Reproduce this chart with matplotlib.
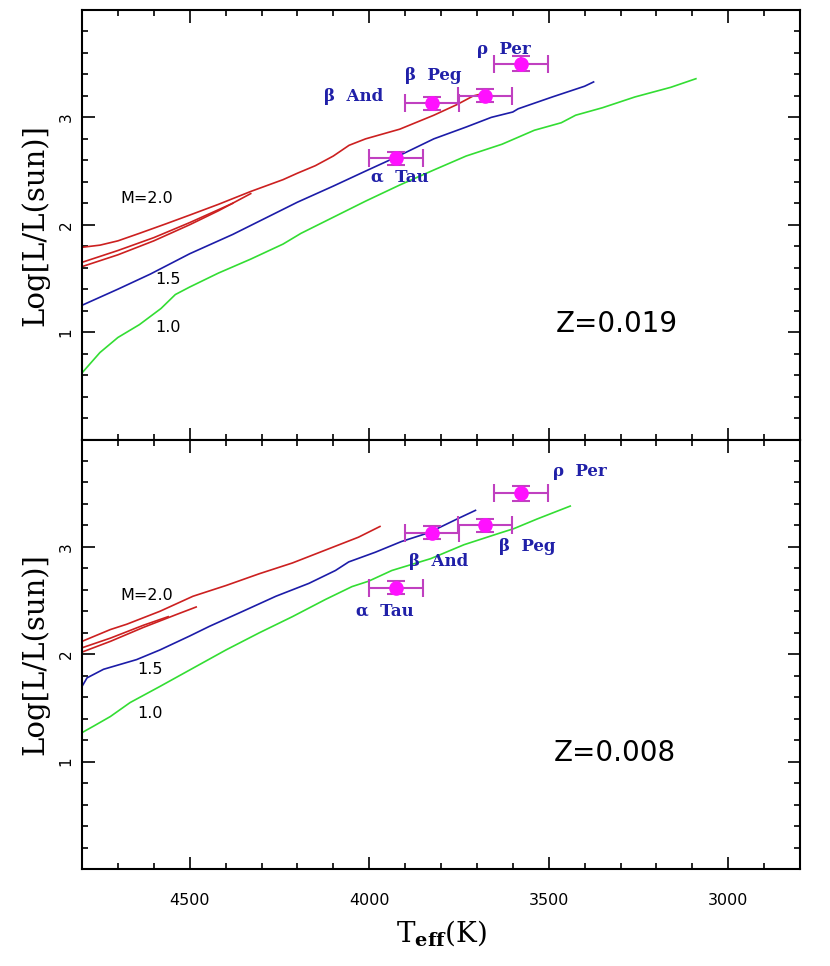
import matplotlib
matplotlib.use("Agg")
import matplotlib.pyplot as plt
from matplotlib.ticker import MultipleLocator

# ---------------- data ----------------
# Z = 0.019 panel
up_T_m10 = [4800, 4750, 4700, 4640, 4580, 4540, 4500, 4420, 4330, 4240, 4190, 4100, 4010,
            3915, 3820, 3730, 3630, 3540, 3465, 3425, 3350, 3260, 3160, 3090]
up_L_m10 = [0.62, 0.81, 0.95, 1.07, 1.22, 1.35, 1.42, 1.55, 1.68, 1.82, 1.92, 2.07, 2.22,
            2.37, 2.51, 2.64, 2.75, 2.88, 2.95, 3.02, 3.09, 3.19, 3.28, 3.36]

up_T_m15 = [4800, 4700, 4610, 4500, 4380, 4290, 4200, 4100, 4010, 3925, 3820, 3730, 3660,
            3600, 3585, 3490, 3400, 3375]
up_L_m15 = [1.25, 1.40, 1.54, 1.73, 1.91, 2.06, 2.21, 2.36, 2.50, 2.63, 2.80, 2.91, 3.00,
            3.05, 3.08, 3.19, 3.29, 3.33]

up_T_m20 = [4800, 4750, 4700, 4640, 4565, 4500, 4420, 4330, 4240, 4200, 4150, 4100, 4056,
            4010, 3915, 3820, 3755, 3710, 3685]
up_L_m20 = [1.79, 1.81, 1.85, 1.92, 2.01, 2.09, 2.19, 2.31, 2.42, 2.48, 2.55, 2.64, 2.74,
            2.80, 2.89, 3.02, 3.12, 3.20, 3.22]
up_T_m20a = [4800, 4700, 4600, 4500, 4420, 4330]
up_L_m20a = [1.61, 1.72, 1.85, 2.00, 2.13, 2.29]
up_T_m20b = [4800, 4700, 4600, 4500, 4420, 4380]
up_L_m20b = [1.65, 1.76, 1.88, 2.02, 2.14, 2.20]

# Z = 0.008 panel
lo_T_m10 = [4800, 4768, 4721, 4666, 4583, 4491, 4399, 4306, 4214, 4122, 4048, 4002, 3937,
            3829, 3736, 3644, 3597, 3532, 3440]
lo_L_m10 = [1.27, 1.33, 1.42, 1.55, 1.70, 1.87, 2.04, 2.20, 2.35, 2.51, 2.63, 2.68, 2.78,
            2.89, 3.02, 3.12, 3.17, 3.26, 3.38]

lo_T_m15 = [4800, 4786, 4740, 4648, 4583, 4500, 4445, 4352, 4260, 4168, 4094, 4057, 3983,
            3910, 3845, 3829, 3755, 3704]
lo_L_m15 = [1.70, 1.78, 1.86, 1.95, 2.04, 2.17, 2.26, 2.40, 2.54, 2.66, 2.78, 2.86, 2.95,
            3.05, 3.12, 3.14, 3.26, 3.34]

lo_T_m20 = [4800, 4721, 4675, 4583, 4491, 4399, 4306, 4214, 4122, 4030, 3970]
lo_L_m20 = [2.12, 2.23, 2.28, 2.40, 2.54, 2.64, 2.75, 2.85, 2.97, 3.09, 3.19]
lo_T_m20a = [4800, 4721, 4629, 4537, 4482]
lo_L_m20a = [2.02, 2.12, 2.25, 2.37, 2.44]
lo_T_m20b = [4800, 4721, 4629, 4560]
lo_L_m20b = [2.06, 2.15, 2.27, 2.35]

# observed stars
star_names = ["\u03b1  Tau", "\u03b2  And", "\u03b2  Peg", "\u03c1  Per"]
star_T = [3925, 3826, 3677, 3576]
star_L = [2.62, 3.13, 3.20, 3.50]
star_Terr = [75, 75, 75, 75]
star_Lerr = [0.06, 0.06, 0.06, 0.07]

# label positions (T, logL) for each panel
up_lab_T = [3915, 4042, 3821, 3624]
up_lab_L = [2.44, 3.19, 3.39, 3.63]
lo_lab_T = [3956, 3806, 3560, 3412]
lo_lab_L = [2.40, 2.86, 3.00, 3.70]

mass_labels = ["M=2.0", "1.5", "1.0"]
up_mlab_T = [4620, 4560, 4560]
up_mlab_L = [2.24, 1.49, 1.04]
lo_mlab_T = [4620, 4611, 4611]
lo_mlab_L = [2.55, 1.86, 1.45]

panel_Z = ["Z=0.019", "Z=0.008"]
Z_T = [3310, 3315]
Z_L = [1.08, 1.08]

# ---------------- style ----------------
RED = "#cc2020"
BLUE = "#1c1ca8"
GREEN = "#33dd33"
MAG = "#ff10ff"
ERRC = "#c040c0"
LABC = "#2020a8"

plt.rcParams["mathtext.fontset"] = "dejavuserif"

fig = plt.figure(figsize=(8.3, 9.66), dpi=100)
left, width = 82 / 830, 718 / 830
h = 429.5 / 966
ax_up = fig.add_axes([left, 1 - 10 / 966 - h, width, h])
ax_lo = fig.add_axes([left, 1 - 10 / 966 - 2 * h, width, h])

panels = [
    (ax_up, (up_T_m10, up_L_m10), (up_T_m15, up_L_m15),
     [(up_T_m20, up_L_m20), (up_T_m20a, up_L_m20a), (up_T_m20b, up_L_m20b)],
     up_lab_T, up_lab_L, up_mlab_T, up_mlab_L),
    (ax_lo, (lo_T_m10, lo_L_m10), (lo_T_m15, lo_L_m15),
     [(lo_T_m20, lo_L_m20), (lo_T_m20a, lo_L_m20a), (lo_T_m20b, lo_L_m20b)],
     lo_lab_T, lo_lab_L, lo_mlab_T, lo_mlab_L),
]

for i, (ax, g, b, reds, lT, lL, mT, mL) in enumerate(panels):
    ax.plot(g[0], g[1], color=GREEN, lw=1.2, zorder=2)
    ax.plot(b[0], b[1], color=BLUE, lw=1.2, zorder=2)
    for r in reds:
        ax.plot(r[0], r[1], color=RED, lw=1.2, zorder=2)
    ax.errorbar(star_T, star_L, xerr=star_Terr, yerr=star_Lerr, fmt="o",
                color=MAG, ecolor=ERRC, elinewidth=1.5, capsize=6.5, capthick=1.5,
                markersize=9.5, zorder=4)
    for name, tx, ty in zip(star_names, lT, lL):
        ax.text(tx, ty, name, color=LABC, fontsize=12, fontweight="bold",
                family="DejaVu Serif", ha="center", va="center", zorder=5)
    for name, tx, ty in zip(mass_labels, mT, mL):
        ax.text(tx, ty, name, color="black", fontsize=11.5, family="DejaVu Sans",
                ha="center", va="center")
    ax.text(Z_T[i], Z_L[i], panel_Z[i], fontsize=20, family="DejaVu Sans",
            ha="center", va="center")

    ax.set_xlim(4800, 2800)
    ax.set_ylim(0, 4)
    ax.xaxis.set_major_locator(MultipleLocator(500))
    ax.xaxis.set_minor_locator(MultipleLocator(100))
    ax.yaxis.set_major_locator(MultipleLocator(1))
    ax.yaxis.set_minor_locator(MultipleLocator(0.2))
    ax.set_yticks([1, 2, 3])
    ax.set_yticklabels(["1", "2", "3"], rotation=90, va="center")
    ax.tick_params(which="both", direction="in", top=True, right=True, width=1.2)
    ax.tick_params(which="major", length=9)
    ax.tick_params(which="minor", length=4.5)
    ax.tick_params(axis="y", labelsize=11, pad=6)
    ax.tick_params(axis="x", labelsize=11.5, pad=17)
    for s in ax.spines.values():
        s.set_linewidth(1.5)
    ax.set_ylabel("Log[L/L(sun)]", fontsize=21, family="DejaVu Serif")
    ax.yaxis.set_label_coords(-0.045, 0.5)

ax_up.tick_params(axis="x", labelbottom=False)
ax_lo.set_xticks([4500, 4000, 3500, 3000])
ax_lo.set_xlabel(r"T$_{\mathbf{eff}}$(K)", fontsize=20, family="DejaVu Serif")
ax_lo.xaxis.set_label_coords(0.5, -0.115)

fig.savefig("out.png", dpi=100)
